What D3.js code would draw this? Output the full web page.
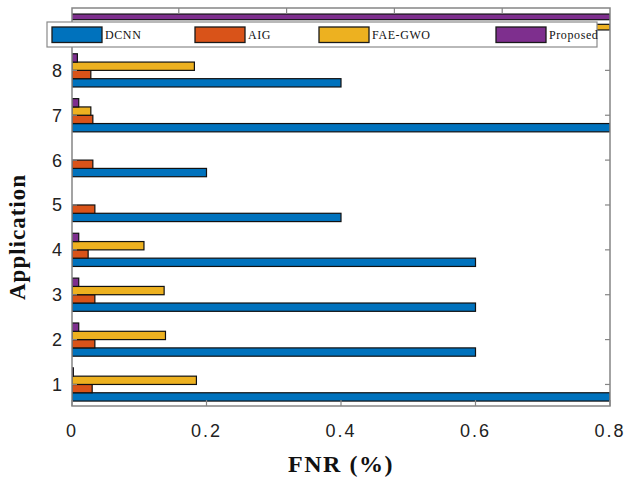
<!DOCTYPE html>
<html>
<head>
<meta charset="utf-8">
<script src="https://cdn.jsdelivr.net/npm/d3@7"></script>
<style>
  html, body { margin: 0; padding: 0; background: #fff; }
  svg { display: block; }
</style>
</head>
<body>
<div id="chart"></div>
<script>
// FNR per application for four detection methods
const categories = [1, 2, 3, 4, 5, 6, 7, 8];
const seriesNames = ["DCNN", "AIG", "FAE-GWO", "Proposed"];
const seriesColors = ["#0072BD", "#D95319", "#EDB120", "#7E2F8E"];
const dcnn     = [0.80, 0.60, 0.60, 0.60, 0.40, 0.20, 0.80, 0.40];
const aig      = [0.030, 0.034, 0.034, 0.024, 0.034, 0.031, 0.031, 0.028];
const faeGwo   = [0.185, 0.139, 0.137, 0.107, 0.0, 0.0, 0.028, 0.182];
const proposed = [0.002, 0.010, 0.010, 0.010, 0.0, 0.0, 0.010, 0.008];
const xTicks = [0, 0.2, 0.4, 0.6, 0.8];

// Upper strip of the frame (axis running to 1.0), partly under the legend
const stripSeries = ["Proposed", "FAE-GWO"];
const stripValues = [1.0, 1.0];
const stripTicks = [0.2, 0.4, 0.6, 0.8];

const W = 627, H = 479;
const frame = { left: 72, right: 610, top: 8, bottom: 406 };

const svg = d3.select("#chart").append("svg")
  .attr("width", W).attr("height", H);
svg.append("rect").attr("width", W).attr("height", H).attr("fill", "#fff");

const x = d3.scaleLinear().domain([0, 0.8]).range([frame.left, frame.right]);
const xStrip = d3.scaleLinear().domain([0, 1.0]).range([frame.left - 1, frame.right]);
const y = d3.scaleLinear().domain([0.52, 9.39]).range([frame.bottom, frame.top]);
const step = y(1) - y(2);
const inner = d3.scaleBand()
  .domain(["Proposed", "FAE-GWO", "AIG", "DCNN"])
  .range([-0.37 * step, 0.37 * step]);
const yStrip = d3.scaleBand().domain(stripSeries)
  .range([12, 32]).paddingInner(0.45).paddingOuter(0.2);

const colorOf = d3.scaleOrdinal().domain(seriesNames).range(seriesColors);

const rows = [];
const valuesBySeries = { "DCNN": dcnn, "AIG": aig, "FAE-GWO": faeGwo, "Proposed": proposed };
categories.forEach((c, i) => {
  seriesNames.forEach(s => rows.push({ cat: c, series: s, value: valuesBySeries[s][i] }));
});

svg.append("clipPath").attr("id", "plotClip")
  .append("rect")
  .attr("x", frame.left).attr("y", frame.top)
  .attr("width", frame.right - frame.left).attr("height", frame.bottom - frame.top);

const plot = svg.append("g").attr("clip-path", "url(#plotClip)");

const barStroke = "#111";

// strip bars at the very top
plot.selectAll("rect.strip").data(stripSeries).join("rect")
  .attr("class", "strip")
  .attr("x", xStrip(0))
  .attr("y", d => yStrip(d))
  .attr("width", (d, i) => xStrip(stripValues[i]) - xStrip(0))
  .attr("height", yStrip.bandwidth())
  .attr("fill", d => colorOf(d))
  .attr("stroke", barStroke).attr("stroke-width", 1.2);

// grouped horizontal bars
plot.selectAll("rect.bar").data(rows).join("rect")
  .attr("class", "bar")
  .attr("x", x(0))
  .attr("y", d => y(d.cat) + inner(d.series))
  .attr("width", d => x(d.value) - x(0))
  .attr("height", inner.bandwidth())
  .attr("fill", d => colorOf(d.series))
  .attr("stroke", barStroke).attr("stroke-width", 1.2);

// frame
const frameColor = "#858585";
svg.append("rect")
  .attr("x", frame.left).attr("y", frame.top)
  .attr("width", frame.right - frame.left).attr("height", frame.bottom - frame.top)
  .attr("fill", "none").attr("stroke", frameColor).attr("stroke-width", 1.5);

// bottom ticks (inward)
svg.append("g").selectAll("line").data(xTicks).join("line")
  .attr("x1", d => x(d)).attr("x2", d => x(d))
  .attr("y1", frame.bottom).attr("y2", frame.bottom - 6)
  .attr("stroke", frameColor).attr("stroke-width", 1.2);

// top strip ticks (inward)
svg.append("g").selectAll("line").data(stripTicks).join("line")
  .attr("x1", d => xStrip(d)).attr("x2", d => xStrip(d))
  .attr("y1", frame.top).attr("y2", frame.top + 6)
  .attr("stroke", frameColor).attr("stroke-width", 1.2);

// left and right category ticks (inward)
const catTicks = svg.append("g");
catTicks.selectAll("line.l").data(categories).join("line").attr("class", "l")
  .attr("x1", frame.left).attr("x2", frame.left + 5)
  .attr("y1", d => y(d)).attr("y2", d => y(d))
  .attr("stroke", frameColor).attr("stroke-width", 1.2);
catTicks.selectAll("line.r").data(categories).join("line").attr("class", "r")
  .attr("x1", frame.right).attr("x2", frame.right - 5)
  .attr("y1", d => y(d)).attr("y2", d => y(d))
  .attr("stroke", frameColor).attr("stroke-width", 1.2);

// tick labels
const tickFont = "'Liberation Sans', Arial, sans-serif";
svg.append("g").selectAll("text").data(xTicks).join("text")
  .attr("x", d => x(d)).attr("y", 437)
  .attr("text-anchor", "middle")
  .attr("font-family", tickFont).attr("font-size", 18)
  .attr("letter-spacing", 2)
  .attr("fill", "#222")
  .text(d => d === 0 ? "0" : d3.format(".1f")(d));

svg.append("g").selectAll("text").data(categories).join("text")
  .attr("x", 57).attr("y", d => y(d) + 6.5)
  .attr("text-anchor", "middle")
  .attr("font-family", tickFont).attr("font-size", 18)
  .attr("fill", "#222")
  .text(d => d);

// axis titles
const titleFont = "'Liberation Serif', 'Times New Roman', serif";
svg.append("text")
  .attr("x", 341).attr("y", 472)
  .attr("text-anchor", "middle")
  .attr("font-family", titleFont).attr("font-weight", "bold")
  .attr("font-size", 24).attr("letter-spacing", 1.5)
  .attr("fill", "#111")
  .text("FNR (%)");

svg.append("text")
  .attr("transform", "translate(25,237) rotate(-90)")
  .attr("text-anchor", "middle")
  .attr("font-family", titleFont).attr("font-weight", "bold")
  .attr("font-size", 23).attr("letter-spacing", 1)
  .attr("fill", "#111")
  .text("Application");

// legend
const legend = svg.append("g");
legend.append("rect")
  .attr("x", 47).attr("y", 22).attr("width", 550).attr("height", 25)
  .attr("fill", "#fff").attr("stroke", "#8a8a8a").attr("stroke-width", 1.2);
const legendX = [52, 195, 319, 496];
const entries = legend.selectAll("g.entry").data(seriesNames).join("g")
  .attr("class", "entry")
  .attr("transform", (d, i) => `translate(${legendX[i]},0)`);
entries.append("rect")
  .attr("x", 0).attr("y", 27).attr("width", 50).attr("height", 15.5)
  .attr("fill", d => colorOf(d))
  .attr("stroke", "#1a1a1a").attr("stroke-width", 1.3);
entries.append("text")
  .attr("x", 53).attr("y", 38.5)
  .attr("font-family", titleFont).attr("font-size", 12)
  .attr("letter-spacing", 0.6)
  .attr("fill", "#111")
  .text(d => d);
</script>
</body>
</html>
